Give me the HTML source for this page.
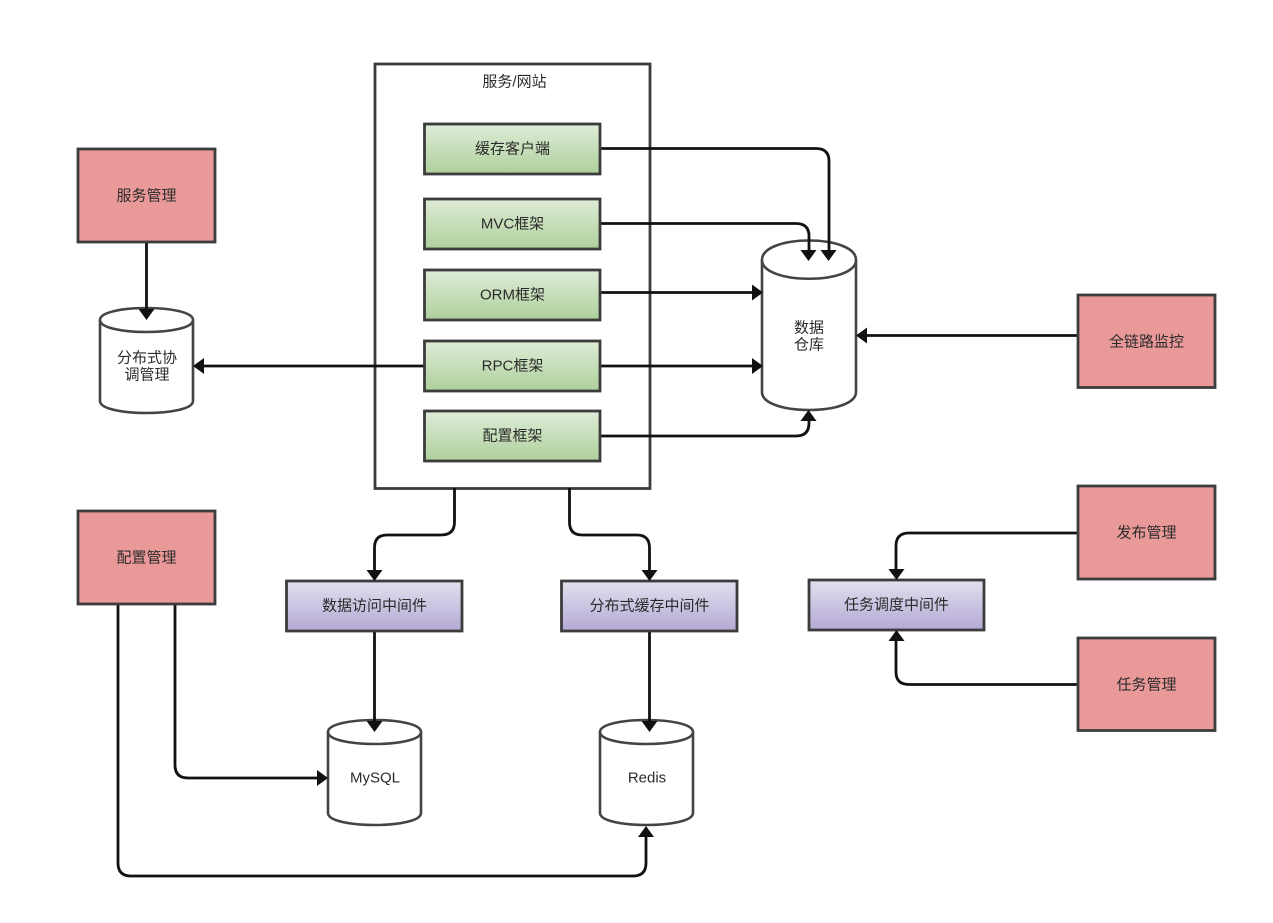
<!DOCTYPE html>
<html>
<head>
<meta charset="utf-8">
<style>
html,body{margin:0;padding:0;background:#fff;}
svg{display:block;}
text{font-family:"Liberation Sans","Noto Sans CJK SC",sans-serif;font-size:15px;fill:#2b2b2b;text-anchor:middle;dominant-baseline:central;}
.box{stroke:#3c3c3c;stroke-width:2.8;}
.cyl{fill:#fff;stroke:#444;stroke-width:2.6;}
.ln{fill:none;stroke:#111;stroke-width:2.8;}
.ah{fill:#111;stroke:none;}
</style>
</head>
<body>
<svg width="1273" height="923" viewBox="0 0 1273 923" xmlns="http://www.w3.org/2000/svg">
<defs>
<linearGradient id="g" x1="0" y1="0" x2="0" y2="1"><stop offset="0" stop-color="#dfecd8"/><stop offset="1" stop-color="#aed09b"/></linearGradient>
<linearGradient id="p" x1="0" y1="0" x2="0" y2="1"><stop offset="0" stop-color="#e3e0ef"/><stop offset="1" stop-color="#b4a9d4"/></linearGradient>
</defs>
<rect width="1273" height="923" fill="#fff"/>

<rect x="375" y="64" width="275" height="424.500" fill="#fff" class="box"/>
<text x="514.500" y="82">服务/网站</text>

<!-- cylinders -->
<path class="cyl" d="M762 260C762 234 856 234 856 260V392C856 416 762 416 762 392Z"/>
<path class="cyl" style="fill:none" d="M762 260C762 285 856 285 856 260"/>
<text x="809" y="328">数据</text>
<text x="809" y="345">仓库</text>

<path class="cyl" d="M100 320C100 304 193 304 193 320V401C193 417 100 417 100 401Z"/>
<path class="cyl" style="fill:none" d="M100 320C100 336 193 336 193 320"/>
<text x="147" y="358">分布式协</text>
<text x="147" y="375">调管理</text>

<path class="cyl" d="M328 732C328 716 421 716 421 732V813C421 829 328 829 328 813Z"/>
<path class="cyl" style="fill:none" d="M328 732C328 748 421 748 421 732"/>
<text x="375" y="778">MySQL</text>

<path class="cyl" d="M600 732C600 716 693 716 693 732V813C693 829 600 829 600 813Z"/>
<path class="cyl" style="fill:none" d="M600 732C600 748 693 748 693 732"/>
<text x="647" y="778">Redis</text>

<!-- connectors -->
<path class="ln" d="M600 148.500H816Q829 148.500 829 161V252"/>
<path class="ln" d="M600 223.500H796Q809 223.500 809 236V252"/>
<path class="ln" d="M600 292.500H753"/>
<path class="ln" d="M600 366H753"/>
<path class="ln" d="M600 436H796Q809 436 809 423V420"/>
<path class="ln" d="M1078 335.500H865"/>
<path class="ln" d="M424 366H202"/>
<path class="ln" d="M146.500 242V309"/>
<path class="ln" d="M454.500 488V522Q454.500 535 441 535H387Q374.500 535 374.500 548V572"/>
<path class="ln" d="M569.500 488V522Q569.500 535 582 535H637Q649.500 535 649.500 548V572"/>
<path class="ln" d="M374.500 631V722"/>
<path class="ln" d="M649.500 631V722"/>
<path class="ln" d="M1078 533H909Q896 533 896 546V571"/>
<path class="ln" d="M1078 684.500H909Q896 684.500 896 672V640"/>
<path class="ln" d="M175 604V765Q175 778 188 778H319"/>
<path class="ln" d="M118 604V863Q118 876 131 876H633Q646 876 646 863V835"/>

<!-- green boxes -->
<rect x="424.500" y="124" width="175.500" height="50" fill="url(#g)" class="box"/>
<text x="512.500" y="149">缓存客户端</text>
<rect x="424.500" y="199" width="175.500" height="50" fill="url(#g)" class="box"/>
<text x="512.500" y="224">MVC框架</text>
<rect x="424.500" y="270" width="175.500" height="50" fill="url(#g)" class="box"/>
<text x="512.500" y="295">ORM框架</text>
<rect x="424.500" y="341" width="175.500" height="50" fill="url(#g)" class="box"/>
<text x="512.500" y="366">RPC框架</text>
<rect x="424.500" y="411" width="175.500" height="50" fill="url(#g)" class="box"/>
<text x="512.500" y="436">配置框架</text>

<!-- pink boxes -->
<rect x="78" y="149" width="137" height="93" fill="#ea9999" class="box"/>
<text x="146.500" y="196">服务管理</text>
<rect x="1078" y="295" width="137" height="92.500" fill="#ea9999" class="box"/>
<text x="1146.500" y="342">全链路监控</text>
<rect x="78" y="511" width="137" height="93" fill="#ea9999" class="box"/>
<text x="146.500" y="558">配置管理</text>
<rect x="1078" y="486" width="137" height="93" fill="#ea9999" class="box"/>
<text x="1146.500" y="533">发布管理</text>
<rect x="1078" y="638" width="137" height="92.500" fill="#ea9999" class="box"/>
<text x="1146.500" y="685">任务管理</text>

<!-- purple boxes -->
<rect x="286.500" y="581" width="175.500" height="50" fill="url(#p)" class="box"/>
<text x="374.500" y="606">数据访问中间件</text>
<rect x="561.500" y="581" width="175.500" height="50" fill="url(#p)" class="box"/>
<text x="649.500" y="606">分布式缓存中间件</text>
<rect x="809" y="580" width="175" height="50" fill="url(#p)" class="box"/>
<text x="896.500" y="605">任务调度中间件</text>

<!-- arrowheads -->
<polygon class="ah" points="820.500,250 836.500,250 828.500,261"/>
<polygon class="ah" points="800.500,250 816.500,250 808.500,261"/>
<polygon class="ah" points="752,284.500 752,300.500 763,292.500"/>
<polygon class="ah" points="752,358 752,374 763,366"/>
<polygon class="ah" points="800.500,421 816.500,421 808.500,410"/>
<polygon class="ah" points="867,327.500 867,343.500 856,335.500"/>
<polygon class="ah" points="204,358 204,374 193,366"/>
<polygon class="ah" points="138.500,309 154.500,309 146.500,320"/>
<polygon class="ah" points="366.500,570 382.500,570 374.500,581"/>
<polygon class="ah" points="641.500,570 657.500,570 649.500,581"/>
<polygon class="ah" points="366.500,721 382.500,721 374.500,732"/>
<polygon class="ah" points="641.500,721 657.500,721 649.500,732"/>
<polygon class="ah" points="888.500,569 904.500,569 896.500,580"/>
<polygon class="ah" points="888.500,641 904.500,641 896.500,630"/>
<polygon class="ah" points="317,770 317,786 328,778"/>
<polygon class="ah" points="638,837 654,837 646,826"/>
</svg>
</body>
</html>
